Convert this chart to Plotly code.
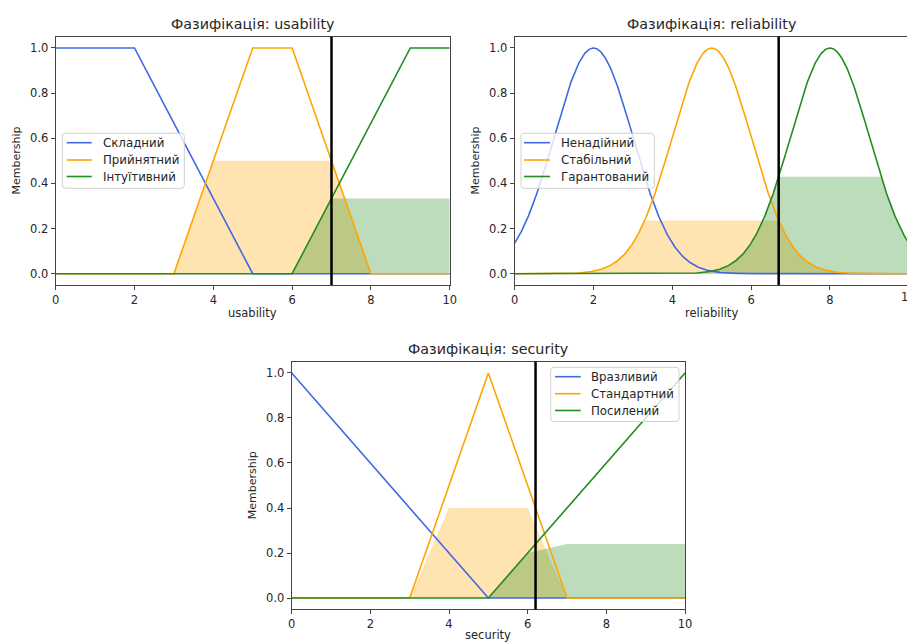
import numpy as np
import plotly.graph_objects as go

# ---------------- data ----------------
usability_terms = ["Складний", "Прийнятний", "Інтуїтивний"]
usability_params = [[0, 0, 2, 5], [3, 5, 6, 8], [6, 9, 10, 10]]   # trapezoids
usability_input = 7.0

reliability_terms = ["Ненадійний", "Стабільний", "Гарантований"]
reliability_params = [[2, 1], [5, 1], [8, 1]]                      # gaussian mean, sigma
reliability_input = 6.7

security_terms = ["Вразливий", "Стандартний", "Посилений"]
security_params = [[0, 0, 5], [3, 5, 7], [5, 10, 10]]              # triangles
security_input = 6.2

x_ticks = [0, 2, 4, 6, 8, 10]
y_ticks = [0.0, 0.2, 0.4, 0.6, 0.8, 1.0]

coarse_universe = np.arange(0, 11, 1.0)
fine_universe = np.linspace(0, 10, 1001)

colors = ["royalblue", "#FFA500", "#228B22"]
fills = ["rgba(65,105,225,0.3)", "rgba(255,165,0,0.3)", "rgba(34,139,34,0.3)"]


def trapmf(x, a, b, c, d):
    y = np.zeros_like(x)
    y[(x >= b) & (x <= c)] = 1.0
    if b > a:
        m = (x > a) & (x < b)
        y[m] = (x[m] - a) / (b - a)
    if d > c:
        m = (x > c) & (x < d)
        y[m] = (d - x[m]) / (d - c)
    return y


def trimf(x, a, b, c):
    return trapmf(x, a, b, b, c)


def gaussmf(x, mean, sigma):
    return np.exp(-((x - mean) ** 2) / (2 * sigma ** 2))


def mf_at(xu, mf, v):
    return float(np.interp(v, xu, mf))


W, H = 907, 643
boxes = [  # left, top, right, bottom in px
    (55.7, 36.7, 449.7, 285.0),
    (514.7, 36.7, 907.0, 285.0),
    (291.7, 361.7, 685.0, 609.3),
]
unit = 39.4
xranges = [[0, 10], [0, (907 - 514.7) / unit], [0, 10]]
yrange = [-0.05, 1.05]

# legend boxes: left, top, right, bottom ; line x0, x1 ; text x ; row ys
legend_layout = [
    (62.3, 133.3, 184.3, 188.3, 66.7, 91.7, 100.7, [142.7, 160.0, 176.5]),
    (521.0, 133.3, 654.3, 188.3, 524.0, 550.0, 559.3, [142.7, 160.0, 176.5]),
    (550.7, 367.3, 679.0, 421.5, 555.0, 580.7, 589.3, [376.7, 393.7, 410.5]),
]

panels = [
    ("usability", usability_terms, coarse_universe,
     [trapmf(coarse_universe, *p) for p in usability_params], usability_input),
    ("reliability", reliability_terms, fine_universe,
     [gaussmf(fine_universe, *p) for p in reliability_params], reliability_input),
    ("security", security_terms, coarse_universe,
     [trimf(coarse_universe, *p) for p in security_params], security_input),
]

fig = go.Figure()
font_family = "DejaVu Sans"
text_color = "#262626"
shapes = []
annotations = []


def px(x):
    return x / W


def py(y):
    return 1 - y / H


def rounded_rect(l, t, r, b, rad=3.0):
    rx, ry = rad / W, rad / H
    L, T, R, B = px(l), py(t), px(r), py(b)
    return (f"M {L+rx},{T} L {R-rx},{T} Q {R},{T} {R},{T-ry} "
            f"L {R},{B+ry} Q {R},{B} {R-rx},{B} L {L+rx},{B} Q {L},{B} {L},{B+ry} "
            f"L {L},{T-ry} Q {L},{T} {L+rx},{T} Z")


for i, (name, terms, xu, mfs, val) in enumerate(panels):
    k = "" if i == 0 else str(i + 1)
    xa, ya = "x" + k, "y" + k
    # fills
    for j, mf in enumerate(mfs):
        deg = mf_at(xu, mf, val)
        fig.add_trace(go.Scatter(
            x=xu, y=np.fmin(deg, mf), mode="lines", line=dict(width=0),
            fill="tozeroy", fillcolor=fills[j], showlegend=False,
            hoverinfo="skip", xaxis=xa, yaxis=ya))
    # lines
    for j, mf in enumerate(mfs):
        fig.add_trace(go.Scatter(
            x=xu, y=mf, mode="lines", name=terms[j],
            line=dict(color=colors[j], width=1.6),
            xaxis=xa, yaxis=ya, showlegend=False))
    l, t, r, b = boxes[i]
    shapes.append(dict(type="line", xref=xa, yref=ya + " domain",
                       x0=val, x1=val, y0=0, y1=1,
                       line=dict(color="black", width=2.5)))
    cx = (l + r) / 2 if i != 1 else (l + l + 10 * unit) / 2
    annotations.append(dict(text="Фазифікація: " + name, xref="paper", yref="paper",
                            x=px(cx), y=py(t - 12.5), xanchor="center", yanchor="middle",
                            showarrow=False, font=dict(size=14.3, color=text_color)))
    label_y = b + 28 if i != 2 else 635.0
    annotations.append(dict(text=name, xref="paper", yref="paper",
                            x=px(cx), y=py(label_y), xanchor="center", yanchor="middle",
                            showarrow=False, font=dict(size=11.5, color=text_color)))
    annotations.append(dict(text="Membership", xref="paper", yref="paper",
                            x=px(l - 39), y=py((t + b) / 2), xanchor="center",
                            yanchor="middle", textangle=-90,
                            showarrow=False, font=dict(size=11, color=text_color)))
    axis_common = dict(showgrid=False, zeroline=False, showline=True, linecolor="#444",
                       linewidth=1, ticks="outside", ticklen=4, tickcolor="#444",
                       tickfont=dict(size=11.5, color=text_color), automargin=False)
    fig.update_layout(**{
        "xaxis" + k: dict(domain=[px(l), px(r)], range=xranges[i], anchor=ya,
                          tickvals=x_ticks, ticktext=[str(v) for v in x_ticks],
                          mirror=True, **axis_common),
        "yaxis" + k: dict(domain=[py(b), py(t)], range=yrange, anchor=xa,
                          tickvals=y_ticks, ticktext=[f"{v:.1f}" for v in y_ticks],
                          mirror=(i != 1), **axis_common),
    })
    # custom legend (matplotlib style)
    bl, bt, br, bb, lx0, lx1, tx, rows = legend_layout[i]
    shapes.append(dict(type="path", xref="paper", yref="paper", layer="above",
                       path=rounded_rect(bl, bt, br, bb),
                       fillcolor="rgba(255,255,255,0.8)",
                       line=dict(color="#d0d0d0", width=1)))
    for j, term in enumerate(terms):
        shapes.append(dict(type="line", xref="paper", yref="paper", layer="above",
                           x0=px(lx0), x1=px(lx1), y0=py(rows[j]), y1=py(rows[j]),
                           line=dict(color=colors[j], width=1.6)))
        annotations.append(dict(text=term, xref="paper", yref="paper",
                                x=px(tx), y=py(rows[j]), xanchor="left", yanchor="middle",
                                showarrow=False, font=dict(size=11.8, color=text_color)))

# partially visible "10" tick label on the cut-off right panel
annotations.append(dict(text="10", xref="paper", yref="paper",
                        x=px(514.7 + 10 * unit), y=py(297), xanchor="center",
                        yanchor="middle", showarrow=False,
                        font=dict(size=11.5, color=text_color)))

fig.update_layout(
    width=W, height=H, autosize=False,
    margin=dict(l=0, r=0, t=0, b=0, pad=0),
    paper_bgcolor="white", plot_bgcolor="white",
    font=dict(family=font_family, color=text_color),
    shapes=shapes, annotations=annotations,
)

fig.write_html("out.html",
               config={"displayModeBar": False},
               post_script="document.body.style.margin='0px';"
                           "document.body.style.overflow='hidden';")
